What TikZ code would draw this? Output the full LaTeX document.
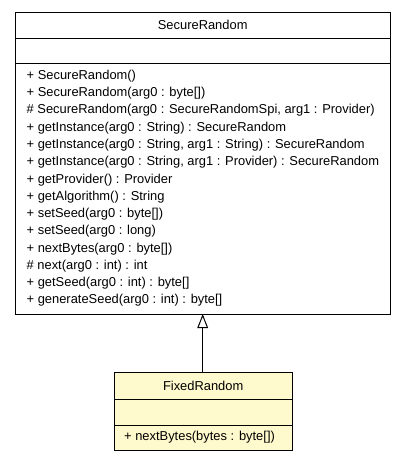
\documentclass[tikz,border=0pt]{standalone}
\usepackage{fontspec}
\setmainfont{Liberation Sans}
\usetikzlibrary{arrows.meta}
\definecolor{noteyellow}{HTML}{FFFACD}
\tikzset{
  member/.style={anchor=west, inner sep=0pt, font=\fontsize{12.9}{14}\selectfont},
  title/.style={anchor=center, inner sep=0pt, font=\fontsize{12.9}{14}\selectfont},
  boxline/.style={draw=black, line width=1pt},
}
\begin{document}
\begin{tikzpicture}[x=1pt,y=-1pt]
\useasboundingbox (0,0) rectangle (405,461);
% SecureRandom
\draw[boxline, fill=white] (15,12) rectangle (390.5,314);
\draw[boxline] (15,38) -- (390.5,38);
\draw[boxline] (15,63.5) -- (390.5,63.5);
\node[title] (sr) at (202.7,25) {SecureRandom};
\foreach \t [count=\i from 0] in {
 {+ SecureRandom()},
 {+ SecureRandom(arg0 : byte[])},
 {\# SecureRandom(arg0 : SecureRandomSpi, arg1 : Provider)},
 {+ getInstance(arg0 : String) : SecureRandom},
 {+ getInstance(arg0 : String, arg1 : String) : SecureRandom},
 {+ getInstance(arg0 : String, arg1 : Provider) : SecureRandom},
 {+ getProvider() : Provider},
 {+ getAlgorithm() : String},
 {+ setSeed(arg0 : byte[])},
 {+ setSeed(arg0 : long)},
 {+ nextBytes(arg0 : byte[])},
 {\# next(arg0 : int) : int},
 {+ getSeed(arg0 : int) : byte[]},
 {+ generateSeed(arg0 : int) : byte[]}}
 { \node[member] (m\i) at (26.5,76+17.28*\i) {\t}; }
% FixedRandom
\draw[boxline, fill=noteyellow] (114.3,372.7) rectangle (292,450.7);
\draw[boxline] (114.3,399.3) -- (292,399.3);
\draw[boxline] (114.3,425.7) -- (292,425.7);
\node[title] (fr) at (203.2,386) {FixedRandom};
\node[member] (fm) at (124,436.7) {+ nextBytes(bytes : byte[])};
\coordinate (frtop) at (202.7,372.7);
\coordinate (srbot) at (202.7,314);
\draw[line width=1pt, -{Triangle[open, width=10.7pt, length=14pt, line width=1pt]}] (frtop) -- (srbot);
\end{tikzpicture}
\end{document}
